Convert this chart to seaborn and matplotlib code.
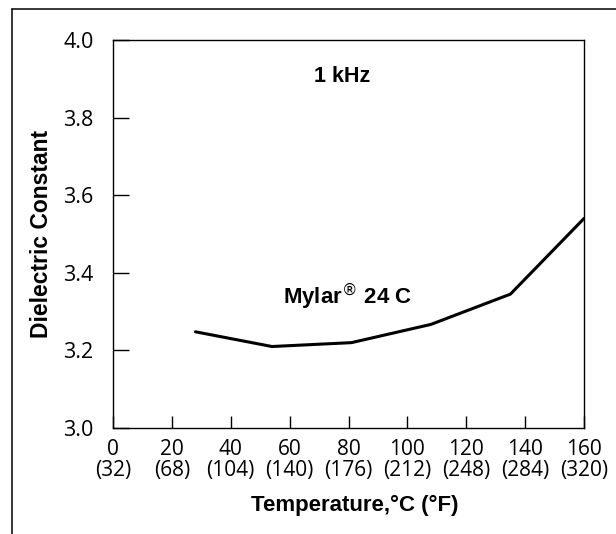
import matplotlib
matplotlib.use("Agg")
import matplotlib.pyplot as plt
import seaborn as sns
import pandas as pd
from matplotlib.lines import Line2D

# ---- data ----
temperature_c = [28, 54, 81, 108, 135, 160]
dielectric_constant = [3.248, 3.21, 3.22, 3.267, 3.345, 3.54]

xtick_c = [0, 20, 40, 60, 80, 100, 120, 140, 160]
xtick_f = [32, 68, 104, 140, 176, 212, 248, 284, 320]
ytick_vals = [3.0, 3.2, 3.4, 3.6, 3.8, 4.0]

series_label = r"Mylar$^{\circledR}$ 24 C"
freq_label = "1 kHz"

df = pd.DataFrame({"T": temperature_c, "K": dielectric_constant})

sns.set_theme(style="white")
plt.rcParams["font.family"] = ["Liberation Sans", "DejaVu Sans"]

fig = plt.figure(figsize=(6.16, 5.34), dpi=100)
ax = fig.add_axes([113 / 616, 1 - 428 / 534, (584 - 113) / 616, 388 / 534])

sns.lineplot(data=df, x="T", y="K", ax=ax, color="black", linewidth=2.2,
             sort=False, estimator=None)

ax.set_xlim(0, 160)
ax.set_ylim(3.0, 4.0)

ax.set_xticks(xtick_c)
ax.set_xticklabels([f"{c}\n({f})" for c, f in zip(xtick_c, xtick_f)],
                   fontfamily="Open Sans", fontsize=15, linespacing=1.02)
ax.set_yticks(ytick_vals)
ax.set_yticklabels([f"{v:.1f}" for v in ytick_vals],
                   fontfamily="Open Sans", fontsize=15.5)

ax.tick_params(axis="x", direction="in", length=9, width=1, color="black",
               pad=8, bottom=True, labelcolor="black")
ax.tick_params(axis="y", direction="in", length=11.5, width=1, color="black",
               pad=14, left=True, labelcolor="black")

for sp in ax.spines.values():
    sp.set_color("black")
    sp.set_linewidth(1.0)

ax.set_xlabel("Temperature,°C (°F)", fontsize=16, fontweight="bold", color="black")
ax.set_ylabel("Dielectric Constant", fontsize=16.5, fontweight="bold", color="black")
ax.xaxis.set_label_coords(0.514, -0.172)
ax.yaxis.set_label_coords(-0.128, 0.5)

ax.text(77.8, 3.907, freq_label, ha="center", va="center", fontsize=15.5,
        fontweight="bold", color="black")
ax.text(79.5, 3.34, series_label, ha="center", va="center", fontsize=16,
        fontweight="bold", color="black")

# outer frame (top and left edges)
fig.add_artist(Line2D([11.7 / 616, 1.0], [1 - 9 / 534, 1 - 9 / 534],
                      transform=fig.transFigure, color="black", linewidth=1.1))
fig.add_artist(Line2D([11.7 / 616, 11.7 / 616], [1 - 9 / 534, 0.0],
                      transform=fig.transFigure, color="black", linewidth=1.1))

fig.savefig("out.png", dpi=100)
